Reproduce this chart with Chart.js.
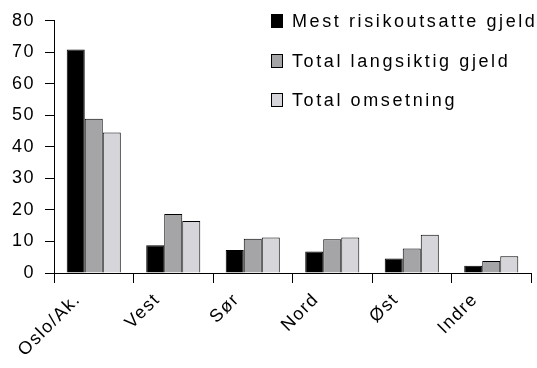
<!DOCTYPE html>
<html>
<head>
<meta charset="utf-8">
<script src="https://cdn.jsdelivr.net/npm/chart.js@4"></script>
<style>
  body { margin: 0; background: #fff; }
  canvas { display: block; }
</style>
</head>
<body>
<canvas id="regionChart" width="537" height="368"></canvas>
<script>
const regions = ["Oslo/Ak.", "Vest", "Sør", "Nord", "Øst", "Indre"];
const mestRisiko = [70.9, 8.8, 7.3, 6.8, 4.6, 2.3];
const langsiktigGjeld = [48.9, 18.7, 10.9, 10.7, 7.8, 3.8];
const omsetning = [44.6, 16.5, 11.3, 11.3, 12.1, 5.3];
const yTicks = [0, 10, 20, 30, 40, 50, 60, 70, 80];

const seriesNames = ["Mest risikoutsatte gjeld", "Total langsiktig gjeld", "Total omsetning"];
const seriesColors = ["#000000", "#a5a5a7", "#d5d5da"];

// the old office look has wide letter spacing everywhere
const spacing = {
  id: "spacing",
  beforeUpdate(chart) {
    chart.ctx.letterSpacing = "1.5px";
  },
  beforeDraw(chart) {
    chart.ctx.letterSpacing = "1.5px";
  },
};

// legend sits inside the plot, top right
const boxLegend = {
  id: "boxLegend",
  afterDraw(chart) {
    const ctx = chart.ctx;
    const rows = [21, 61, 100];
    ctx.save();
    ctx.letterSpacing = "2.6px";
    ctx.font = "18px 'Liberation Sans', Arial, sans-serif";
    ctx.textBaseline = "middle";
    for (let i = 0; i < seriesNames.length; i++) {
      ctx.fillStyle = seriesColors[i];
      ctx.fillRect(271.5, rows[i] - 6.5, 11, 13);
      ctx.strokeStyle = "#000";
      ctx.lineWidth = 1;
      ctx.strokeRect(271.5, rows[i] - 6.5, 11, 13);
      ctx.fillStyle = "#000";
      ctx.fillText(seriesNames[i], 292, rows[i] + 1);
    }
    ctx.restore();
  },
};

function makeDataset(i, values) {
  return {
    label: seriesNames[i],
    data: values,
    backgroundColor: seriesColors[i],
    borderColor: "#000",
    borderWidth: 1,
    categoryPercentage: 0.68,
    barPercentage: 1.0,
  };
}

new Chart(document.getElementById("regionChart"), {
  type: "bar",
  data: {
    labels: regions,
    datasets: [
      makeDataset(0, mestRisiko),
      makeDataset(1, langsiktigGjeld),
      makeDataset(2, omsetning),
    ],
  },
  options: {
    responsive: false,
    animation: false,
    layout: { padding: { top: 19, right: 6, left: 0, bottom: 0 } },
    plugins: {
      legend: { display: false },
      tooltip: { enabled: false },
    },
    scales: {
      x: {
        afterFit: (scale) => (scale.height = 95),
        border: { color: "#000", width: 1 },
        grid: {
          offset: true,
          drawOnChartArea: false,
          color: "#000",
          tickLength: 10,
        },
        ticks: {
          color: "#000",
          font: { family: "'Liberation Sans', Arial, sans-serif", size: 18 },
          minRotation: 45,
          maxRotation: 45,
          padding: 6,
          labelOffset: -16,
        },
      },
      y: {
        min: 0,
        max: 80,
        afterFit: (scale) => (scale.width = 54),
        afterBuildTicks: (scale) => (scale.ticks = yTicks.map((v) => ({ value: v }))),
        border: { color: "#000", width: 1 },
        grid: {
          drawOnChartArea: false,
          color: "#000",
          tickLength: 9,
        },
        ticks: {
          color: "#000",
          font: { family: "'Liberation Sans', Arial, sans-serif", size: 18 },
          padding: 10,
        },
      },
    },
  },
  plugins: [spacing, boxLegend],
});
</script>
</body>
</html>
